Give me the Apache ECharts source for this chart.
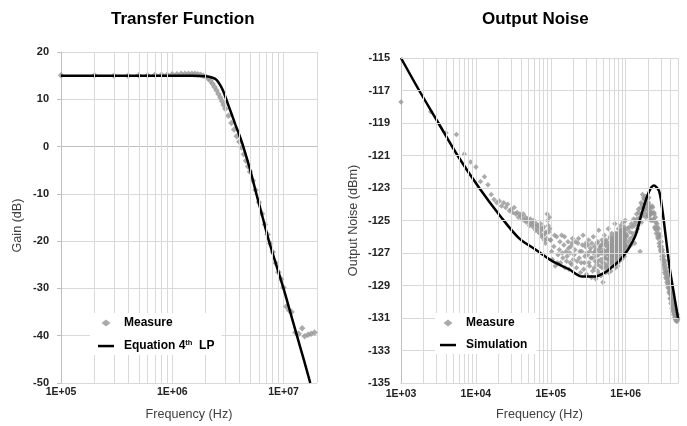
<!DOCTYPE html>
<html><head><meta charset="utf-8">
<script src="https://cdn.jsdelivr.net/npm/echarts@6/dist/echarts.min.js"></script>
<style>html,body{margin:0;padding:0;background:#fff}#c{width:687px;height:426px}</style>
</head><body><div id="c"></div>
<script>
// ---------- Transfer Function ----------
const gainMeasure = [
[1e5,15.1],[2e5,15.1],[3e5,15.0],[4e5,15.0],[5e5,15.1],[6e5,15.1],[7e5,15.2],[8e5,15.2],[9e5,15.2],
[1.0e6,15.3],[1.1e6,15.3],[1.2e6,15.4],[1.3e6,15.4],[1.4e6,15.4],[1.5e6,15.4],[1.6e6,15.4],[1.7e6,15.3],
[1.8e6,15.2],[1.9e6,15.0],[2.0e6,14.8],[2.1e6,14.4],[2.2e6,13.9],[2.3e6,13.3],[2.4e6,12.6],[2.5e6,11.9],
[2.6e6,11.1],[2.7e6,10.4],[2.8e6,9.6],[2.9e6,8.8],[3.0e6,8.0],[3.2e6,6.5],[3.4e6,5.0],[3.6e6,3.6],
[3.8e6,2.2],[4.0e6,1.0],[4.2e6,-0.2],[4.4e6,-1.6],[4.6e6,-3.0],[4.8e6,-4.2],[5.0e6,-5.3],[5.3e6,-7.2],
[5.6e6,-9.2],[6.0e6,-11.8],[6.4e6,-14.2],[6.8e6,-16.5],[7.2e6,-18.6],[7.6e6,-20.5],[8.0e6,-22.3],
[8.5e6,-24.6],[9.0e6,-26.6],[9.5e6,-28.0],[1.0e7,-29.8],[1.06e7,-33.8],[1.12e7,-34.6],[1.18e7,-35.0],
[1.28e7,-39.3],[1.37e7,-39.6],[1.47e7,-38.4],[1.55e7,-40.1],[1.66e7,-39.8],[1.77e7,-39.6],[1.9e7,-39.3]
];
const gainEquation = [
[1e5,15],[3e5,15],[1e6,15],[1.5e6,15],[2e6,14.85],[2.3e6,14.55],[2.5e6,14.1],[2.7e6,13.0],[2.9e6,11.5],
[3.1e6,9.6],[3.4e6,7.0],[3.7e6,4.6],[4e6,2.5],[4.35e6,0],[5e6,-4.8],[5.7e6,-10],[6.5e6,-15],[7.4e6,-20],
[8.6e6,-25],[1e7,-30],[1.15e7,-35],[1.32e7,-40],[1.52e7,-45],[1.74e7,-50]
];
const gainMinorTicks = [2e5,3e5,4e5,5e5,6e5,7e5,8e5,9e5,2e6,3e6,4e6,5e6,6e6,7e6,8e6,9e6];

// ---------- Output Noise ----------
const noiseMeasure = [
[1000,-117.7],[2500,-118.3],[4000,-119.6],[5500,-119.7],[7000,-120.9],[8500,-121.4],[10000,-121.7],
[11500,-122.6],[13000,-122.3],[14500,-122.8],[16000,-123.4],[17500,-123.7],[19000,-123.9],[20500,-123.8],
[22000,-124.1],[23500,-123.9],[25000,-124.2],[26500,-124.0],[28000,-124.4],[29500,-124.3],[31000,-124.5],
[32500,-124.2],[34000,-124.6],[35500,-124.5],[37000,-124.8],[38500,-124.6],[40000,-124.7],[41500,-124.9],
[43000,-124.6],[44500,-125.0],[46000,-124.8],[47500,-125.1],[49000,-124.9],[50500,-125.0],[52000,-125.3],
[53500,-124.9],[55000,-125.2],[56500,-125.1],[58000,-125.4],[59500,-125.0],[61000,-125.3],[62500,-125.6],
[64000,-125.2],[65500,-125.5],[67000,-125.3],[68500,-125.7],[70000,-125.4],[71500,-125.8],[73000,-125.2],
[74500,-125.6],[76000,-126.0],[77500,-125.5],[79000,-125.9],[80500,-125.4],[82000,-126.2],[83500,-125.8],
[85000,-126.4],[86500,-125.7],[88000,-126.1],[89500,-124.6],[91000,-125.0],[92500,-125.3],[94000,-125.7],
[95500,-124.8],[97000,-125.5],[98500,-126.2],
[100000,-126.2],[105000,-127.4],[110000,-126.6],[115000,-127.8],[120000,-126.0],[125000,-127.1],
[130000,-126.8],[135000,-127.6],[140000,-125.9],[145000,-127.3],[150000,-126.5],[155000,-127.9],
[160000,-126.9],[165000,-127.2],[170000,-126.3],[175000,-128.0],[180000,-127.0],[185000,-126.6],
[190000,-127.7],[195000,-126.1],[200000,-127.4],
[102500,-126.9],[112500,-125.9],[122500,-127.6],[132500,-126.3],[142500,-127.0],[152500,-126.0],
[162500,-127.5],[172500,-126.7],[182500,-127.6],[192500,-126.4],[205000,-127.1],[215000,-126.3],
[225000,-127.5],[235000,-126.1],[245000,-126.9],[255000,-127.6],[265000,-126.5],[275000,-128.0],
[285000,-127.2],[295000,-126.4],
[210000,-126.8],[220000,-127.9],[230000,-126.4],[240000,-127.3],[250000,-128.2],[260000,-126.9],
[270000,-125.9],[280000,-127.6],[290000,-126.6],[300000,-128.3],[310000,-127.1],[320000,-126.2],
[330000,-127.8],[340000,-126.7],[350000,-128.5],[360000,-127.3],[370000,-126.0],[380000,-127.9],
[390000,-126.9],[400000,-128.6],
[303000,-127.0],[313000,-126.5],[323000,-127.6],[333000,-126.9],[343000,-127.3],[353000,-126.4],
[363000,-128.1],[373000,-127.0],[383000,-126.6],[393000,-127.5],[403000,-126.8],[413000,-127.7],
[423000,-126.3],[433000,-127.1],[443000,-128.3],[453000,-126.7],[463000,-127.4],[473000,-126.5],
[483000,-127.9],[493000,-127.0],[503000,-126.4],[513000,-127.6],[523000,-126.9],[533000,-127.3],
[543000,-126.2],[553000,-127.8],[563000,-126.6],[573000,-127.4],[583000,-126.8],[593000,-128.2],
[603000,-127.1],[613000,-126.5],[623000,-127.6],[633000,-126.9],[643000,-126.3],[653000,-127.5],
[663000,-126.7],[673000,-127.2],[683000,-126.1],[693000,-127.6],[703000,-126.8],[713000,-127.0],
[723000,-126.3],[733000,-127.5],[743000,-126.6],[753000,-125.9],[763000,-127.2],[773000,-126.5],
[783000,-126.9],[793000,-127.6],[803000,-126.2],[813000,-126.8],[823000,-127.3],[833000,-126.5],
[843000,-125.7],[853000,-127.0],[863000,-126.3],[873000,-126.8],[883000,-127.4],[893000,-125.9],
[903000,-126.4],[913000,-127.0],[923000,-126.6],[933000,-125.5],[943000,-126.9],[953000,-126.2],
[963000,-127.2],[973000,-126.0],[983000,-126.8],[993000,-125.8],
[407500,-127.2],[415000,-126.4],[422500,-128.1],[430000,-127.5],[437500,-125.6],[445000,-126.9],
[452500,-127.8],[460000,-126.6],[467500,-128.4],[475000,-127.0],[482500,-126.2],[490000,-127.6],
[497500,-128.8],[505000,-126.8],[512500,-127.3],[520000,-125.9],[527500,-127.9],[535000,-126.5],
[542500,-128.2],[550000,-127.1],[557500,-126.3],[565000,-127.7],[572500,-126.9],[580000,-128.0],
[587500,-125.5],[595000,-127.4],[602500,-126.7],[610000,-127.9],[617500,-126.1],[625000,-127.2],
[632500,-128.1],[640000,-126.6],[647500,-127.5],[655000,-125.8],[662500,-127.0],[670000,-127.8],
[677500,-126.4],[685000,-127.3],[692500,-126.0],[700000,-127.7],
[604000,-126.4],[612000,-127.3],[620000,-126.0],[628000,-126.8],[636000,-127.6],[644000,-126.5],
[652000,-127.1],[660000,-126.2],[668000,-126.9],[676000,-127.5],[684000,-126.6],[692000,-127.0],
[704000,-126.3],[716000,-126.9],[728000,-125.8],[740000,-126.5],[752000,-127.1],[764000,-126.0],
[776000,-126.7],[788000,-127.3],[800000,-126.4],[812000,-125.8],[824000,-126.6],[836000,-127.2],
[848000,-126.1],[860000,-126.8],[872000,-125.6],[884000,-126.3],[896000,-127.0],[908000,-126.0],
[920000,-126.5],[932000,-127.1],[944000,-125.7],[956000,-126.4],[968000,-126.9],[980000,-125.9],
[992000,-126.5],
[706000,-126.5],[712000,-127.4],[718000,-125.2],[724000,-126.9],[730000,-127.9],[736000,-126.2],
[742000,-127.2],[748000,-126.7],[754000,-127.6],[760000,-125.8],[766000,-126.9],[772000,-127.3],
[778000,-126.4],[784000,-127.8],[790000,-126.1],[796000,-127.0],[802000,-125.5],[808000,-126.6],
[814000,-127.5],[820000,-126.3],[826000,-127.1],[832000,-125.9],[838000,-126.8],[844000,-127.4],
[850000,-126.0],[856000,-126.7],[862000,-125.3],[868000,-127.2],[874000,-126.4],[880000,-125.7],
[886000,-126.9],[892000,-127.3],[898000,-126.2],[904000,-125.6],[910000,-126.6],[916000,-127.1],
[922000,-125.1],[928000,-126.3],[934000,-126.8],[940000,-125.8],[946000,-126.5],[952000,-127.0],
[958000,-125.4],[964000,-126.1],[970000,-126.7],[976000,-125.6],[982000,-126.4],[988000,-125.0],
[994000,-126.2],[1000000,-126.6],
[1040000,-125.9],[1080000,-126.6],[1120000,-125.4],[1160000,-126.1],[1200000,-125.2],[1240000,-125.8],
[1280000,-124.9],[1320000,-126.4],[1360000,-125.1],[1400000,-124.6],[1440000,-125.5],[1480000,-124.3],
[1520000,-125.0],[1560000,-126.9],[1600000,-123.9],[1640000,-124.6],[1680000,-123.4],[1720000,-124.2],
[1760000,-123.7],[1800000,-124.5],[1840000,-123.5],[1880000,-124.1],[1920000,-123.8],[1960000,-124.7],
[2000000,-124.0],[2040000,-123.6],[2080000,-124.4],[2120000,-124.9],[2160000,-124.2],[2200000,-124.6],
[1020000,-126.0],[1060000,-125.5],[1100000,-126.3],[1140000,-125.7],[1180000,-126.5],[1220000,-125.4],
[1260000,-126.0],[1300000,-125.3],[1340000,-125.0],[1380000,-125.7],[1420000,-124.9],[1460000,-125.3],
[1500000,-124.5],[1540000,-124.8],[1580000,-124.2],[1620000,-125.1],[1660000,-124.0],[1700000,-124.7],
[1740000,-123.6],[1780000,-124.3],[1820000,-124.0],[1860000,-124.8],[1900000,-123.6],[1940000,-124.3],
[1980000,-124.6],[2020000,-123.9],[2060000,-124.7],[2100000,-124.2],[2140000,-124.5],[2180000,-125.0],
[2260000,-124.1],[2320000,-125.0],[2380000,-124.5],[2440000,-125.4],[2500000,-124.8],[2560000,-125.8],
[2620000,-125.2],[2680000,-126.0],[2740000,-125.5],[2800000,-126.4],[2860000,-125.9],[2920000,-126.8],
[2980000,-126.3],[3040000,-127.2],[3100000,-126.8],[3160000,-127.6],[3220000,-127.2],[3280000,-128.0],
[3340000,-127.5],[3400000,-128.3],[3460000,-127.9],[3520000,-128.6],[3580000,-128.2],[3640000,-128.9],
[3700000,-128.5],[3760000,-129.2],[3820000,-128.8],[3880000,-129.5],[3940000,-129.1],[4000000,-129.8],
[4060000,-129.3],[4120000,-130.0],[4180000,-129.6],[4240000,-130.3],[4300000,-129.8],[4360000,-130.5],
[4420000,-130.1],[4480000,-130.7],[4540000,-130.3],[4600000,-130.9],[4660000,-130.5],[4720000,-131.0],
[4780000,-130.7],[4840000,-131.1],[4900000,-130.8],[4960000,-131.0],
[2230000,-124.5],[2290000,-124.2],[2350000,-124.9],[2410000,-124.6],[2470000,-125.5],[2530000,-125.1],
[2590000,-125.6],[2650000,-125.4],[2710000,-126.1],[2770000,-125.8],[2830000,-126.6],[2890000,-126.0],
[2950000,-126.9],[3010000,-126.6],[3070000,-127.4],[3130000,-127.0],[3190000,-127.8],[3250000,-127.4],
[3310000,-128.2],[3370000,-127.7],[3430000,-128.5],[3490000,-128.1],[3550000,-128.8],[3610000,-128.4],
[3670000,-129.1],[3730000,-128.7],[3790000,-129.4],[3850000,-129.0],[3910000,-129.8],[3970000,-129.4],
[4030000,-130.1],[4090000,-129.6],[4150000,-130.4],[4210000,-129.9],[4270000,-130.6],[4330000,-130.2],
[4390000,-130.8],[4450000,-130.4],[4510000,-131.0],[4570000,-130.6],[4630000,-131.1],[4690000,-130.8],
[4750000,-131.2],[4810000,-130.9],[4870000,-131.2],[4930000,-131.1]
];
const noiseSimulation = [
[1000,-115],[1750,-117],[3160,-119],[5690,-121],[11100,-123],[21500,-124.77],[37800,-126.1],
[63100,-126.8],[105000,-127.5],[175000,-128.0],[263000,-128.45],[378000,-128.45],[541000,-128.17],
[661000,-127.85],[813000,-127.5],[1000000,-127.0],[1107000,-126.7],[1358000,-125.9],[1660000,-124.47],
[2042000,-123.25],[2382000,-122.85],[2780000,-123.16],[3076000,-124.27],[3412000,-125.9],
[3864000,-127.9],[4406000,-129.5],[5000000,-131.0]
];
const noiseMinorTicks = [2e3,3e3,4e3,5e3,6e3,7e3,8e3,9e3,2e4,3e4,4e4,5e4,6e4,7e4,8e4,9e4,
  2e5,3e5,4e5,5e5,6e5,7e5,8e5,9e5,2e6,3e6,4e6];
const noiseYTicks = [-135,-133,-131,-129,-127,-125,-123,-121,-119,-117,-115];

const FONT = "'Liberation Sans', Arial, sans-serif";
const GRID_C = '#d9d9d9';
const MEAS_C = '#969696';
const ICON_DIAMOND = 'path://M0,0L0,0M3.5,4L8,0.5L12.5,4L8,7.5ZM16,8L16,8';
const ICON_LINE = 'path://M0,0L0,0M0,2.8H16V5.3H0ZM16,8L16,8';

function expLabel(v) {
  const l = Math.log10(v), e = Math.round(l);
  if (Math.abs(l - e) > 1e-6) return '';
  return '1E+' + String(e).padStart(2, '0');
}
function vGrid(ticks) {
  return ticks.map(t => ({ xAxis: t }));
}
const tickLabel = { fontFamily: FONT, fontWeight: 'bold', fontSize: 11, color: '#222' };
const nameStyle = { fontFamily: FONT, fontSize: 12.6, color: '#404040' };
const legendRich = {
  f: { fontFamily: FONT, fontWeight: 'bold', fontSize: 12, lineHeight: 14, color: '#000', padding: [0, 0, 0, 5] },
  b: { fontFamily: FONT, fontWeight: 'bold', fontSize: 12, lineHeight: 14, color: '#000' },
  s: { fontFamily: FONT, fontWeight: 'bold', fontSize: 7.5, lineHeight: 14, color: '#000', verticalAlign: 'top', padding: [0, 0, 5, 0] }
};

const chart = echarts.init(document.getElementById('c'), null, { renderer: 'canvas' });
chart.setOption({
  animation: false,
  backgroundColor: '#fff',
  title: [
    { text: 'Transfer Function', left: 111, top: 11, padding: 0,
      textStyle: { fontFamily: FONT, fontSize: 17, fontWeight: 'bold', color: '#000' } },
    { text: 'Output Noise', left: 482, top: 11, padding: 0,
      textStyle: { fontFamily: FONT, fontSize: 17, fontWeight: 'bold', color: '#000' } }
  ],
  grid: [
    { left: 61, top: 52, width: 256, height: 334 },
    { left: 401, top: 58, width: 277, height: 328 }
  ],
  legend: [
    { data: [{ name: 'Measure', icon: ICON_DIAMOND, itemStyle: { color: MEAS_C } },
             { name: 'Equation 4th LP', icon: ICON_LINE, itemStyle: { color: '#000' } }],
      orient: 'vertical', left: 90, top: 313, itemWidth: 16, itemHeight: 8, itemGap: 10, z: 10,
      padding: [4, 7, 3, 8], backgroundColor: '#fff', selectedMode: false,
      formatter: n => n === 'Measure' ? '{f|Measure}' : '{f|Equation 4}{s|th}{b|  LP}',
      textStyle: { rich: legendRich } },
    { data: [{ name: 'Measure', icon: ICON_DIAMOND, itemStyle: { color: MEAS_C } },
             { name: 'Simulation', icon: ICON_LINE, itemStyle: { color: '#000' } }],
      orient: 'vertical', left: 435, top: 313, itemWidth: 16, itemHeight: 8, itemGap: 10, z: 10,
      padding: [4, 9, 3, 5], backgroundColor: '#fff', selectedMode: false,
      formatter: n => '{f|' + n + '}',
      textStyle: { rich: legendRich } }
  ],
  xAxis: [
    { type: 'log', logBase: 10, gridIndex: 0, min: 1e5, max: 2e7,
      name: 'Frequency (Hz)', nameLocation: 'middle', nameGap: 25, nameTextStyle: nameStyle,
      axisLine: { lineStyle: { color: '#bfbfbf' } }, axisTick: { show: false },
      axisLabel: Object.assign({ formatter: expLabel, margin: 4, showMinLabel: true, showMaxLabel: true }, tickLabel, { fontSize: 10.5 }),
      splitLine: { show: true, lineStyle: { color: GRID_C } } },
    { type: 'log', logBase: 10, gridIndex: 1, min: 1e3, max: 5e6,
      name: 'Frequency (Hz)', nameLocation: 'middle', nameGap: 25, nameTextStyle: nameStyle,
      axisLine: { lineStyle: { color: '#bfbfbf' } }, axisTick: { show: false },
      axisLabel: Object.assign({ formatter: expLabel, margin: 6, showMinLabel: true, showMaxLabel: true }, tickLabel, { fontSize: 10.5 }),
      splitLine: { show: true, lineStyle: { color: GRID_C } } }
  ],
  yAxis: [
    { type: 'value', gridIndex: 0, min: -50, max: 20, interval: 10,
      name: 'Gain (dB)', nameLocation: 'middle', nameGap: 37, nameRotate: 90,
      nameTextStyle: Object.assign({ padding: [0, 16, 0, 0] }, nameStyle),
      axisLine: { show: true, lineStyle: { color: '#bfbfbf' } },
      axisTick: { show: true, length: 4, lineStyle: { color: '#bfbfbf' } },
      axisLabel: Object.assign({ margin: 12 }, tickLabel),
      splitLine: { show: true, lineStyle: { color: GRID_C } } },
    { type: 'value', gridIndex: 1, min: -135, max: -115, interval: 1,
      name: 'Output Noise (dBm)', nameLocation: 'middle', nameGap: 41, nameRotate: 90,
      nameTextStyle: nameStyle,
      axisLine: { show: true, lineStyle: { color: '#bfbfbf' } },
      axisTick: { show: false },
      axisLabel: Object.assign({ margin: 11,
        formatter: v => noiseYTicks.indexOf(v) >= 0 ? String(v) : '' }, tickLabel),
      splitLine: { show: false } }
  ],
  series: [
    { name: 'grid0', type: 'line', xAxisIndex: 0, yAxisIndex: 0, data: [], z: 1, silent: true,
      markLine: { silent: true, symbol: ['none', 'none'], label: { show: false }, animation: false,
        lineStyle: { color: GRID_C, width: 1, type: 'solid' }, emphasis: { disabled: true },
        data: vGrid(gainMinorTicks) } },
    { name: 'grid1', type: 'line', xAxisIndex: 1, yAxisIndex: 1, data: [], z: 1, silent: true,
      markLine: { silent: true, symbol: ['none', 'none'], label: { show: false }, animation: false,
        lineStyle: { color: GRID_C, width: 1, type: 'solid' }, emphasis: { disabled: true },
        data: vGrid(noiseMinorTicks).concat(noiseYTicks.map(t => ({ yAxis: t }))) } },
    { name: 'Measure', type: 'scatter', xAxisIndex: 0, yAxisIndex: 0, data: gainMeasure,
      symbol: 'diamond', symbolSize: 6.5, itemStyle: { color: MEAS_C }, z: 2 },
    { name: 'Equation 4th LP', type: 'line', xAxisIndex: 0, yAxisIndex: 0, data: gainEquation,
      symbol: 'none', smooth: 0.3, lineStyle: { color: '#000', width: 2.5 }, itemStyle: { color: '#000' }, z: 3 },
    { name: 'Measure', type: 'scatter', xAxisIndex: 1, yAxisIndex: 1, data: noiseMeasure,
      symbol: 'diamond', symbolSize: 5.5, itemStyle: { color: MEAS_C }, z: 2 },
    { name: 'Simulation', type: 'line', xAxisIndex: 1, yAxisIndex: 1, data: noiseSimulation,
      symbol: 'none', smooth: 0.3, lineStyle: { color: '#000', width: 2.5 }, itemStyle: { color: '#000' }, z: 3 }
  ]
});
</script></body></html>
